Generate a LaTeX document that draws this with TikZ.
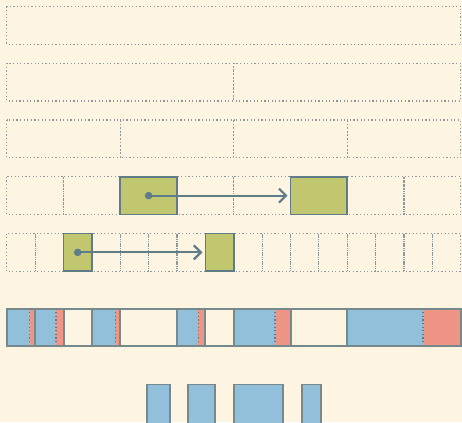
\documentclass[tikz,border=0pt]{standalone}
\usetikzlibrary{arrows.meta}
\definecolor{bg}{HTML}{FDF5E2}
\definecolor{grn}{HTML}{C1C76F}
\definecolor{blu}{HTML}{92BFDA}
\definecolor{redseg}{HTML}{EE9586}
\definecolor{slate}{HTML}{5F7C88}
\definecolor{dotg}{HTML}{8A999E}
\definecolor{barline}{HTML}{76898D}
\tikzset{
  cell/.style={draw=dotg, line width=1.2pt, dash pattern=on 1.2pt off 2.4pt},
  gbox/.style={draw=slate, fill=grn, line width=1.6pt, inner sep=0pt, outer sep=0pt, anchor=north west},
  arr/.style={draw=slate, line width=2.2pt, -{Straight Barb[length=7pt,width=14pt]}, shorten >=3pt},
  dotmark/.style={fill=slate},
  seg/.style={line width=2pt, draw=barline},
  split/.style={draw=slate, line width=1.2pt, dash pattern=on 1.2pt off 2.4pt},
  bbox/.style={draw=barline, fill=blu, line width=1.8pt}
}
\begin{document}
\begin{tikzpicture}[x=1pt,y=-1pt]
\fill[bg] (0,0) rectangle (462,422);
\useasboundingbox (0,0) rectangle (462,422);
% grid rows
\foreach \r/\n in {0/1,1/2,2/4,3/8,4/16} {
  \pgfmathsetmacro\t{6.5+\r*56.75}
  \pgfmathsetmacro\w{454/\n}
  \foreach \i in {1,...,\n} {
    \draw[cell] ({6.75+(\i-1)*\w},\t) rectangle ++(\w,37.75);
  }
}
% green boxes row 4
\node[gbox, minimum width=56.75pt, minimum height=37.75pt] (a1) at (120.25,176.75) {};
\node[gbox, minimum width=56.75pt, minimum height=37.75pt] (b1) at (290.5,176.75) {};
\fill[dotmark] (a1.center) circle (3.8);
\draw[arr] (a1.center) -- (b1.west);
% green boxes row 5
\node[gbox, minimum width=28.375pt, minimum height=37.75pt] (a2) at (63.5,233.5) {};
\node[gbox, minimum width=28.375pt, minimum height=37.75pt] (b2) at (205.375,233.5) {};
\fill[dotmark] (a2.center) circle (3.8);
\draw[arr] (a2.center) -- (b2.west);
% bar
\foreach \s/\m/\e in {6.75/29.7/35.125, 35.125/56/63.5, 91.875/115.3/120.25, 177/198.3/205.375, 233.75/275/290.5, 347.25/423/460.75} {
  \fill[blu] (\s,308.5) rectangle (\m,346.25);
  \fill[redseg] (\m,308.5) rectangle (\e,346.25);
  \draw[split] (\m,308.5) -- (\m,346.25);
}
\foreach \x in {35.125, 63.5, 91.875, 120.25, 177, 205.375, 233.75, 290.5, 347.25} {
  \draw[seg] (\x,308.5) -- (\x,346.25);
}
\draw[seg] (6.75,308.5) rectangle (460.75,346.25);
% bottom boxes
\draw[bbox] (146.7,384.5) rectangle (169.7,430);
\draw[bbox] (188.3,384.5) rectangle (215,430);
\draw[bbox] (233.7,384.5) rectangle (283.3,430);
\draw[bbox] (301.7,384.5) rectangle (321,430);
\end{tikzpicture}
\end{document}
